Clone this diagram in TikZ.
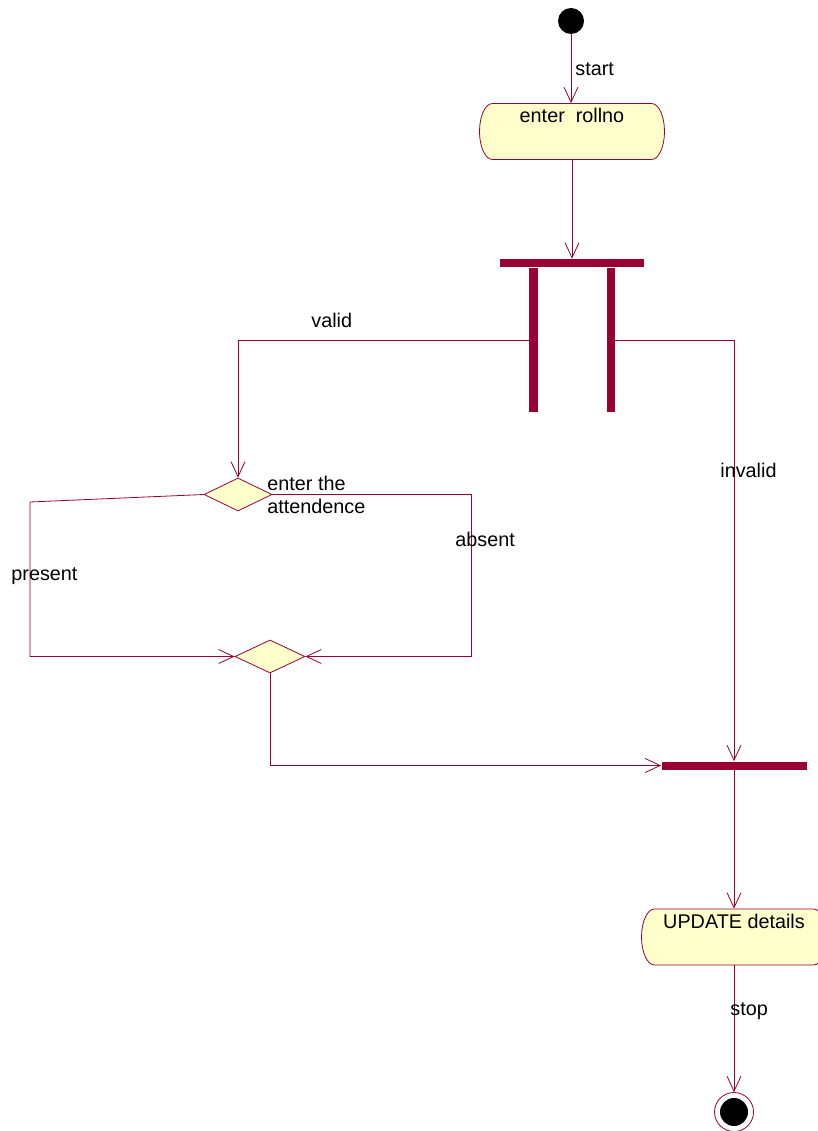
\documentclass[tikz,border=0pt]{standalone}
\usepackage{fontspec}
\setmainfont{Liberation Sans}
\usetikzlibrary{arrows.meta,shapes.geometric}
\definecolor{rose}{HTML}{990033}
\definecolor{rosefill}{HTML}{FFFFCC}
\newcommand{\activity}[4]{\draw[draw=rose, fill=rosefill] (#2-79.5,#3+28) -- (#2+79.5,#3+28) arc[start angle=90, end angle=-90, x radius=13pt, y radius=28pt] -- (#2-79.5,#3-28) arc[start angle=270, end angle=90, x radius=13pt, y radius=28pt] -- cycle; \node[act] (#1) at (#2,#3) {#4};}

\begin{document}
\begin{tikzpicture}[x=1pt, y=1pt, line width=0.8pt, font=\fontsize{19.8}{23.5}\selectfont,
  flow/.style={draw=rose, -{Straight Barb[length=15pt,width=14pt]}},
  act/.style={minimum width=185pt, minimum height=56pt, inner sep=0pt, text height=19.5pt, text depth=36.5pt},
  bar/.style={fill=rose, inner sep=0pt},
  choice/.style={diamond, draw=rose, fill=rosefill, inner sep=0pt},
  lbl/.style={inner sep=0pt, anchor=base west}]
\useasboundingbox (0,0) rectangle (817,-1131);
\node[circle, fill=black, minimum size=26pt, inner sep=0pt] (init) at (571,-21) {};
\activity{rollno}{572}{-131.5}{enter\ \ rollno}
\node[bar, minimum width=144pt, minimum height=8pt] (forkbar) at (572,-263) {};
\node[bar, minimum width=9pt, minimum height=144pt] (leftbar) at (533.5,-340) {};
\node[bar, minimum width=8pt, minimum height=144pt] (rightbar) at (611,-340) {};
\node[choice, minimum width=68pt, minimum height=33pt] (mark) at (238,-494.5) {};
\node[choice, minimum width=70pt, minimum height=33pt] (merge) at (270,-656.5) {};
\node[bar, minimum width=145pt, minimum height=8pt] (joinbar) at (734,-765.5) {};
\activity{update}{734}{-937}{UPDATE details}
\node[circle, draw=rose, minimum size=39pt, inner sep=0pt] (final) at (734,-1112) {};
\node[circle, fill=black, minimum size=28pt, inner sep=0pt] (finaldot) at (final) {};
\draw[flow] (init.south) -- (init |- rollno.north);
\draw[flow] (rollno) -- (forkbar);
\draw[flow] (leftbar.west) -| (mark.north);
\draw[flow] (rightbar.east) -| (joinbar.north);
\draw[flow] (mark.west) -- (30,-502) |- (merge.west);
\draw[flow] (mark.east) -- (471,-494.5) |- (merge.east);
\draw[flow] (merge.south) |- (joinbar.west);
\draw[flow] (joinbar) -- (update);
\draw[flow] (update) -- (final);
\node[lbl] (startlbl) at (575,-76) {start};
\node[lbl] (validlbl) at (311,-327) {valid};
\node[lbl] (invalidlbl) at (720,-477) {invalid};
\node[lbl] (presentlbl) at (11,-580) {present};
\node[lbl] (absentlbl) at (455,-546) {absent};
\node[lbl] (stoplbl) at (730,-1015) {stop};
\node[lbl, align=left] (attlbl) at (267,-513.5) {enter the\\attendence};
\end{tikzpicture}
\end{document}
